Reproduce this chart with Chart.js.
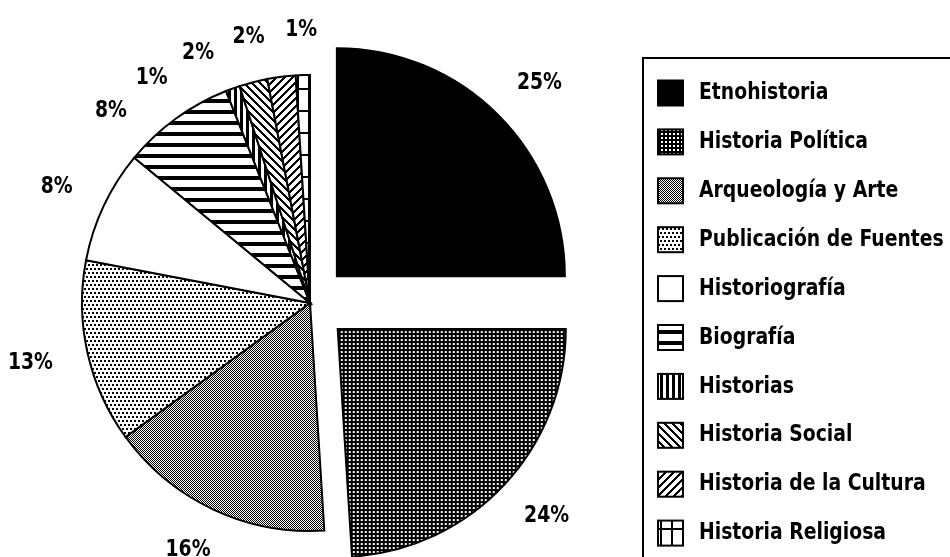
<!DOCTYPE html>
<html>
<head>
<meta charset="utf-8">
<title>Distribución temática</title>
<script src="https://cdn.jsdelivr.net/npm/chart.js@4.4.1/dist/chart.umd.min.js"></script>
<style>
  html, body { margin: 0; padding: 0; background: #fff; }
  #wrap { width: 950px; height: 557px; }
</style>
</head>
<body>
<div id="wrap"><canvas id="pie" width="950" height="557"></canvas></div>
<script>
const categories = [
  'Etnohistoria',
  'Historia Política',
  'Arqueología y Arte',
  'Publicación de Fuentes',
  'Historiografía',
  'Biografía',
  'Historias',
  'Historia Social',
  'Historia de la Cultura',
  'Historia Religiosa'
];
const shares = [25, 24, 16, 13, 8, 8, 1, 2, 2, 1];
const explodedSlices = ['Etnohistoria', 'Historia Política'];

const TEXT_FONT = 'bold 22px "DejaVu Sans Condensed", "DejaVu Sans", sans-serif';
const TEXT_SX = 0.95, TEXT_SY = 1.07;   // the old bitmap font is tall and narrow

const canvas = document.getElementById('pie');
const ctx = canvas.getContext('2d');

// little black & white tiles, like the old bitmap fill patterns
function tile(w, h, paint) {
  const t = document.createElement('canvas');
  t.width = w;
  t.height = h;
  const g = t.getContext('2d');
  g.fillStyle = '#fff';
  g.fillRect(0, 0, w, h);
  g.fillStyle = '#000';
  paint(g, w, h);
  return ctx.createPattern(t, 'repeat');
}

function pixels(g, w, h, test) {
  for (let y = 0; y < h; y++) {
    for (let x = 0; x < w; x++) {
      if (test(x, y)) g.fillRect(x, y, 1, 1);
    }
  }
}

const fills = [
  '#000',
  tile(4, 4, g => { g.fillRect(0, 0, 4, 4); g.fillStyle = '#fff'; g.fillRect(1, 1, 2, 2); }),
  tile(2, 2, (g, w, h) => pixels(g, w, h, (x, y) => (x + y) % 2 === 0)),
  tile(4, 8, g => { g.fillRect(0, 0, 2, 2); g.fillRect(2, 4, 2, 2); }),
  '#fff',
  tile(8, 11, g => g.fillRect(0, 0, 8, 4)),
  tile(6, 8, g => g.fillRect(0, 0, 3, 8)),
  tile(8, 8, (g, w, h) => pixels(g, w, h, (x, y) => (x - y + 8) % 8 < 3)),
  tile(8, 8, (g, w, h) => pixels(g, w, h, (x, y) => (x + y) % 8 < 3)),
  tile(11, 22, g => { g.fillRect(0, 0, 11, 2); g.fillRect(0, 0, 2, 22); })
];

function stretchedText(c, text, x, y) {
  c.save();
  c.translate(x, y);
  c.scale(TEXT_SX, TEXT_SY);
  c.fillText(text, 0, 0);
  c.restore();
}

// percentage labels outside the pie, small slices pushed apart
const percentLabels = {
  id: 'percentLabels',
  afterDatasetsDraw(chart) {
    const arcs = chart.getDatasetMeta(0).data;
    const values = chart.data.datasets[0].data;
    const minGap = 0.19;
    const angles = arcs.map(a => (a.startAngle + a.endAngle) / 2);
    for (let i = angles.length - 2; i >= 0; i--) {
      if (angles[i] > angles[i + 1] - minGap) angles[i] = angles[i + 1] - minGap;
    }
    const c = chart.ctx;
    c.save();
    c.font = TEXT_FONT;
    c.fillStyle = '#000';
    c.textAlign = 'center';
    c.textBaseline = 'middle';
    arcs.forEach((arc, i) => {
      const mid = (arc.startAngle + arc.endAngle) / 2;
      const shift = (arc.options.offset || 0) / 4;
      const cx = arc.x + Math.cos(mid) * shift;
      const cy = arc.y + Math.sin(mid) * shift;
      const r = arc.outerRadius + 36;
      const text = values[i] + '%';
      const w = c.measureText(text).width * TEXT_SX;
      const h = 18;
      const ax = cx + Math.cos(angles[i]) * r;
      const ay = cy + Math.sin(angles[i]) * r;
      stretchedText(c, text, ax + Math.cos(angles[i]) * w / 2, ay + Math.sin(angles[i]) * h / 2);
    });
    c.restore();
  }
};

// framed legend on the right, running off the page like the original
const boxedLegend = {
  id: 'boxedLegend',
  afterDraw(chart) {
    const c = chart.ctx;
    const left = 643, top = 58, rowH = 48.9, sw = 25;
    const ds = chart.data.datasets[0];
    c.save();
    c.lineWidth = 2;
    c.strokeStyle = '#000';
    c.strokeRect(left, top, 400, 600);
    c.font = TEXT_FONT;
    c.textBaseline = 'middle';
    c.textAlign = 'left';
    chart.data.labels.forEach((label, i) => {
      const cy = top + 35 + i * rowH;
      c.fillStyle = ds.backgroundColor[i];
      c.fillRect(left + 15, cy - sw / 2, sw, sw);
      c.strokeRect(left + 15, cy - sw / 2, sw, sw);
      c.fillStyle = '#000';
      stretchedText(c, label, left + 56, cy);
    });
    c.restore();
  }
};

new Chart(ctx, {
  type: 'pie',
  data: {
    labels: categories,
    datasets: [{
      data: shares,
      backgroundColor: fills,
      borderColor: '#000',
      borderWidth: 2,
      borderJoinStyle: 'miter',
      offset: c => explodedSlices.includes(categories[c.dataIndex]) ? 152 : 0
    }]
  },
  options: {
    responsive: false,
    animation: false,
    radius: 228,
    layout: { padding: { left: 0, right: 330, top: 49, bottom: 0 } },
    plugins: {
      legend: { display: false },
      tooltip: { enabled: false }
    }
  },
  plugins: [percentLabels, boxedLegend]
});
</script>
</body>
</html>
